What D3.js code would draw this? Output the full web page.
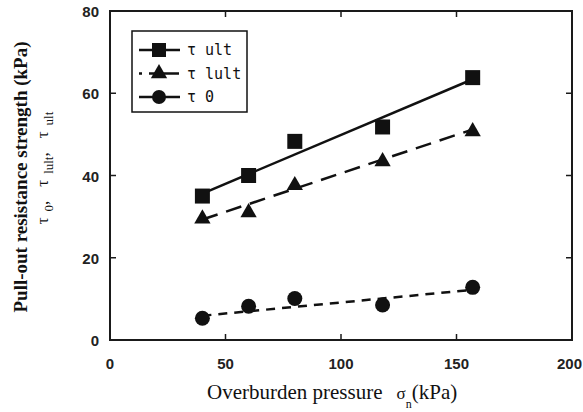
<!DOCTYPE html>
<html>
<head>
<meta charset="utf-8">
<script src="https://cdn.jsdelivr.net/npm/d3@7"></script>
<style>
  body { margin: 0; background: #fff; }
</style>
</head>
<body>
<script>
let width = 583;
let height = 412;

let pressure = [40, 60, 80, 118, 157];
let tauUlt = [35, 40, 48.3, 51.8, 63.8];
let tauLult = [29.5, 31, 37.6, 43.4, 50.7];
let tau0 = [5.3, 8.2, 10.1, 8.5, 12.8];

// fitted lines, endpoints as drawn
let fitX = [40, 157];
let fitUlt = [35.6, 63.4];
let fitLult = [29.3, 51.2];
let fit0 = [5.9, 12.2];

let xTicks = [0, 50, 100, 150, 200];
let yTicks = [0, 20, 40, 60, 80];

let pLeft = 110, pRight = 572, pTop = 11, pBottom = 340;

let x = d3.scaleLinear().domain([0, 200]).range([pLeft, pRight]);
let y = d3.scaleLinear().domain([0, 80]).range([pBottom, pTop]);

let svg = d3.select('body').append('svg')
	.attr('width', width)
	.attr('height', height)
	.style('background-color', '#fff');

// frame
svg.append('rect')
	.attr('x', pLeft)
	.attr('y', pTop)
	.attr('width', pRight - pLeft)
	.attr('height', pBottom - pTop)
	.style('fill', 'none')
	.style('stroke', '#1a1a1a')
	.style('stroke-width', 2);

// inward ticks on all four sides
let tickLen = 6;
let inner = [20, 40, 60];
let innerX = [50, 100, 150];
svg.selectAll('.ytl').data(inner).enter().append('line')
	.attr('x1', pLeft).attr('x2', pLeft + tickLen)
	.attr('y1', d => y(d)).attr('y2', d => y(d))
	.style('stroke', '#1a1a1a').style('stroke-width', 1.5);
svg.selectAll('.ytr').data(inner).enter().append('line')
	.attr('x1', pRight).attr('x2', pRight - tickLen)
	.attr('y1', d => y(d)).attr('y2', d => y(d))
	.style('stroke', '#1a1a1a').style('stroke-width', 1.5);
svg.selectAll('.xtb').data(innerX).enter().append('line')
	.attr('x1', d => x(d)).attr('x2', d => x(d))
	.attr('y1', pBottom).attr('y2', pBottom - tickLen)
	.style('stroke', '#1a1a1a').style('stroke-width', 1.5);
svg.selectAll('.xtt').data(innerX).enter().append('line')
	.attr('x1', d => x(d)).attr('x2', d => x(d))
	.attr('y1', pTop).attr('y2', pTop + tickLen)
	.style('stroke', '#1a1a1a').style('stroke-width', 1.5);

// tick labels
svg.selectAll('.yl').data(yTicks).enter().append('text')
	.attr('x', pLeft - 11)
	.attr('y', d => y(d) + 6)
	.attr('text-anchor', 'end')
	.style('font-family', 'Liberation Sans, Arial, sans-serif')
	.style('font-weight', 'bold')
	.style('font-size', '15px')
	.style('fill', '#222')
	.text(d => d);
// the last label sits against the page edge, as in the picture
svg.selectAll('.xl').data(xTicks).enter().append('text')
	.attr('x', d => d === 200 ? width - 1 : x(d))
	.attr('y', 369)
	.attr('text-anchor', d => d === 200 ? 'end' : 'middle')
	.style('font-family', 'Liberation Sans, Arial, sans-serif')
	.style('font-weight', 'bold')
	.style('font-size', '15px')
	.style('fill', '#222')
	.text(d => d);

// fit lines
let fits = [
	{ v: fitUlt, dash: null },
	{ v: fitLult, dash: '16,9' },
	{ v: fit0, dash: '9,7' }
];
for (let f of fits) {
	svg.append('line')
		.attr('x1', x(fitX[0])).attr('y1', y(f.v[0]))
		.attr('x2', x(fitX[1])).attr('y2', y(f.v[1]))
		.style('stroke', '#111')
		.style('stroke-width', 2.5)
		.style('stroke-dasharray', f.dash);
}

// markers
let sq = 15;
svg.selectAll('.sq').data(pressure).enter().append('rect')
	.attr('x', (d) => x(d) - sq / 2)
	.attr('y', (d, i) => y(tauUlt[i]) - sq / 2)
	.attr('width', sq).attr('height', sq)
	.style('fill', '#111');

let tri = d3.symbol().type(d3.symbolTriangle).size(115);
svg.selectAll('.tri').data(pressure).enter().append('path')
	.attr('d', tri)
	.attr('transform', (d, i) => 'translate(' + x(d) + ',' + y(tauLult[i]) + ')')
	.style('fill', '#111');

svg.selectAll('.dot').data(pressure).enter().append('circle')
	.attr('cx', d => x(d))
	.attr('cy', (d, i) => y(tau0[i]))
	.attr('r', 7.5)
	.style('fill', '#111');

// legend
let lg = svg.append('g');
lg.append('rect')
	.attr('x', 132).attr('y', 31)
	.attr('width', 115).attr('height', 81)
	.style('fill', '#fff')
	.style('stroke', '#111')
	.style('stroke-width', 1.5);

let legendItems = [
	{ label: 'ult', dash: null, mark: 'sq' },
	{ label: 'lult', dash: '3,7,30', mark: 'tri' },
	{ label: '0', dash: null, mark: 'dot' }
];
legendItems.forEach((it, i) => {
	let cy = 50 + i * 23.5;
	lg.append('line')
		.attr('x1', 139).attr('x2', 180)
		.attr('y1', cy).attr('y2', cy)
		.style('stroke', '#111').style('stroke-width', 2.5)
		.style('stroke-dasharray', it.dash);
	if (it.mark === 'sq') {
		lg.append('rect').attr('x', 152).attr('y', cy - 7).attr('width', 14).attr('height', 14).style('fill', '#111');
	} else if (it.mark === 'tri') {
		lg.append('path').attr('d', tri).attr('transform', 'translate(159,' + cy + ')').style('fill', '#111');
	} else {
		lg.append('circle').attr('cx', 159).attr('cy', cy).attr('r', 7).style('fill', '#111');
	}
	lg.append('text')
		.attr('x', 187).attr('y', cy + 5)
		.style('font-family', 'DejaVu Sans Mono, monospace')
		.style('font-size', '15px')
		.style('fill', '#111')
		.text('\u03c4 ' + it.label);
});

// axis titles
svg.append('text')
	.attr('transform', 'translate(27,177) rotate(-90)')
	.attr('text-anchor', 'middle')
	.style('font-family', 'Liberation Serif, Times New Roman, serif')
	.style('font-weight', 'bold')
	.style('font-size', '19px')
	.style('fill', '#111')
	.text('Pull-out resistance strength (kPa)');

let sub = svg.append('text')
	.attr('transform', 'translate(48,168) rotate(-90)')
	.attr('text-anchor', 'middle')
	.style('font-family', 'Liberation Serif, Times New Roman, serif')
	.style('font-size', '17px')
	.style('fill', '#111');
[['0', ','], ['lult', ','], ['ult', '']].forEach((p, i) => {
	sub.append('tspan').attr('dx', i ? 14 : 0).text('\u03c4');
	sub.append('tspan').attr('dx', 6).attr('dy', 5).style('font-size', '13px').text(p[0]);
	sub.append('tspan').attr('dy', -5).text(p[1]);
});

let xt = svg.append('text')
	.attr('x', 207).attr('y', 399)
	.style('font-family', 'Liberation Serif, Times New Roman, serif')
	.style('font-size', '21px')
	.style('fill', '#111');
xt.append('tspan').text('Overburden pressure');
xt.append('tspan').attr('dx', 14).style('font-size', '17px').text('\u03c3');
xt.append('tspan').attr('dy', 9).style('font-size', '12px').text('n');
xt.append('tspan').attr('dy', -9).text('(kPa)');
</script>
</body>
</html>
